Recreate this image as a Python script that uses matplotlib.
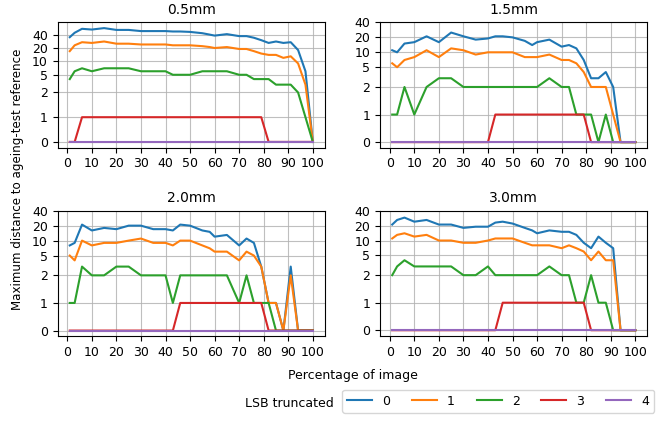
import matplotlib
matplotlib.use("Agg")
import matplotlib.pyplot as plt
from matplotlib.ticker import FixedLocator, NullLocator, FixedFormatter

x = [1, 3, 6, 10, 15, 20, 25, 30, 35, 40, 43, 46, 50, 55, 58, 60, 65, 70, 73, 76, 79, 82, 85, 88, 91, 94, 97, 100]

titles = ["0.5mm", "1.5mm", "2.0mm", "3.0mm"]
lsb_labels = ["0", "1", "2", "3", "4"]

# panel 0.5mm
p05_lsb0 = [35, 44, 54, 52, 56, 51, 51, 48, 48, 48, 47, 47, 46, 43, 40, 38, 41, 37, 37, 34, 30, 26, 28, 26, 27, 18, 6, 0]
p05_lsb1 = [17, 23, 27, 26, 28, 25, 25, 24, 24, 24, 23, 23, 23, 22, 21, 20, 21, 19, 19, 17, 15, 14, 14, 12, 13, 9, 3, 0]
p05_lsb2 = [4, 6, 7, 6, 7, 7, 7, 6, 6, 6, 5, 5, 5, 6, 6, 6, 6, 5, 5, 4, 4, 4, 3, 3, 3, 2, 1, 0]
p05_lsb3 = [0, 0, 1, 1, 1, 1, 1, 1, 1, 1, 1, 1, 1, 1, 1, 1, 1, 1, 1, 1, 1, 0, 0, 0, 0, 0, 0, 0]
p05_lsb4 = [0] * 28

# panel 1.5mm
p15_lsb0 = [11, 10, 15, 16, 21, 16, 25, 21, 18, 19, 21, 21, 20, 17, 14, 16, 18, 13, 14, 12, 7, 3, 3, 4, 2, 0, 0, 0]
p15_lsb1 = [6, 5, 7, 8, 11, 8, 12, 11, 9, 10, 10, 10, 10, 8, 8, 8, 9, 7, 7, 6, 4, 2, 2, 2, 1, 0, 0, 0]
p15_lsb2 = [1, 1, 2, 1, 2, 3, 3, 2, 2, 2, 2, 2, 2, 2, 2, 2, 3, 2, 2, 1, 1, 1, 0, 1, 0, 0, 0, 0]
p15_lsb3 = [0, 0, 0, 0, 0, 0, 0, 0, 0, 0, 1, 1, 1, 1, 1, 1, 1, 1, 1, 1, 1, 0, 0, 0, 0, 0, 0, 0]
p15_lsb4 = [0] * 28

# panel 2.0mm
p20_lsb0 = [8, 9, 21, 16, 18, 17, 20, 20, 17, 17, 16, 21, 20, 16, 15, 12, 13, 8, 11, 9, 3, 1, 1, 0, 3, 0, 0, 0]
p20_lsb1 = [5, 4, 10, 8, 9, 9, 10, 11, 9, 9, 8, 10, 10, 8, 7, 6, 6, 4, 6, 5, 3, 1, 1, 0, 2, 0, 0, 0]
p20_lsb2 = [1, 1, 3, 2, 2, 3, 3, 2, 2, 2, 1, 2, 2, 2, 2, 2, 2, 1, 2, 1, 1, 1, 0, 0, 0, 0, 0, 0]
p20_lsb3 = [0, 0, 0, 0, 0, 0, 0, 0, 0, 0, 0, 1, 1, 1, 1, 1, 1, 1, 1, 1, 1, 0, 0, 0, 0, 0, 0, 0]
p20_lsb4 = [0] * 28

# panel 3.0mm
p30_lsb0 = [21, 26, 29, 24, 26, 21, 21, 18, 19, 19, 23, 24, 22, 18, 16, 14, 16, 15, 15, 13, 9, 7, 12, 9, 7, 0, 0, 0]
p30_lsb1 = [11, 13, 14, 12, 13, 10, 10, 9, 9, 10, 11, 11, 11, 9, 8, 8, 8, 7, 8, 7, 6, 4, 6, 4, 4, 0, 0, 0]
p30_lsb2 = [2, 3, 4, 3, 3, 3, 3, 2, 2, 3, 2, 2, 2, 2, 2, 2, 3, 2, 2, 1, 1, 2, 1, 1, 0, 0, 0, 0]
p30_lsb3 = [0, 0, 0, 0, 0, 0, 0, 0, 0, 0, 0, 1, 1, 1, 1, 1, 1, 1, 1, 1, 1, 0, 0, 0, 0, 0, 0, 0]
p30_lsb4 = [0] * 28

panels = [
    [p05_lsb0, p05_lsb1, p05_lsb2, p05_lsb3, p05_lsb4],
    [p15_lsb0, p15_lsb1, p15_lsb2, p15_lsb3, p15_lsb4],
    [p20_lsb0, p20_lsb1, p20_lsb2, p20_lsb3, p20_lsb4],
    [p30_lsb0, p30_lsb1, p30_lsb2, p30_lsb3, p30_lsb4],
]

yticks = [0, 1, 2, 5, 10, 20, 40]
xticks = list(range(0, 101, 10))
colors = ["#1f77b4", "#ff7f0e", "#2ca02c", "#d62728", "#9467bd"]

plt.rcParams["font.family"] = "DejaVu Sans"
fig, axes = plt.subplots(2, 2, figsize=(6.62, 4.23), dpi=100)
fig.subplots_adjust(left=0.087, right=0.978, top=0.947, bottom=0.206, wspace=0.206, hspace=0.504)

handles = []
for i, ax in enumerate(axes.flat):
    ax.set_yscale("symlog", linthresh=2, linscale=1)
    for j, series in enumerate(panels[i]):
        h, = ax.plot(x, series, color=colors[j], lw=1.5)
        if i == 0:
            handles.append(h)
    ax.yaxis.set_major_locator(FixedLocator(yticks))
    ax.yaxis.set_major_formatter(FixedFormatter([str(t) for t in yticks]))
    ax.yaxis.set_minor_locator(NullLocator())
    ax.set_xticks(xticks)
    ax.tick_params(labelsize=9)
    ax.grid(True, color="#b0b0b0", lw=0.8, alpha=0.8)
    ax.set_title(titles[i], fontsize=10)
    if i > 0:
        ax.set_ylim(top=40)

fig.text(0.5325, 1 - 375 / 423, "Percentage of image", ha="center", va="center", fontsize=9)
fig.text(0.027, 1 - 179 / 423, "Maximum distance to ageing-test reference", rotation=90,
         ha="center", va="center", fontsize=8.6)
fig.text(334 / 662, 1 - 403 / 423, "LSB truncated", ha="right", va="center", fontsize=9)
fig.legend(handles, lsb_labels, ncol=5, loc="lower right", bbox_to_anchor=(0.988, 0.024),
           fontsize=9, handlelength=2.0, columnspacing=1.75, borderaxespad=0)

fig.savefig("out.png", dpi=100)
